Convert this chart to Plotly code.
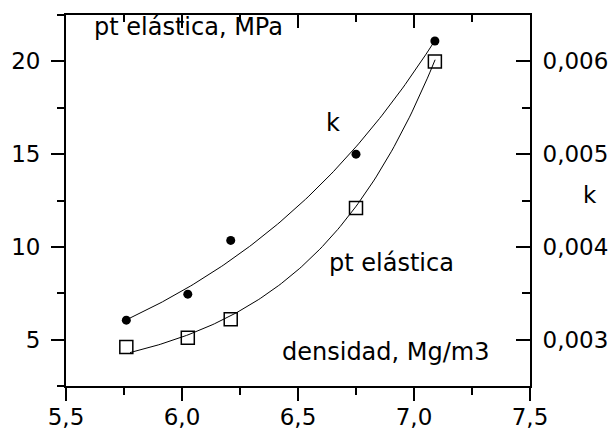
import numpy as np
import plotly.graph_objects as go

# measured data
densidad = [5.76, 6.025, 6.21, 6.75, 7.09]
pt_elastica = [4.6, 5.1, 6.1, 12.1, 20.0]
k_vals = [0.00321, 0.00349, 0.00407, 0.00500, 0.00622]

# points
k_fit_x = [5.773, 6.034, 6.207, 6.422, 6.753, 6.846, 6.947, 7.083]
k_fit_y = [0.00323, 0.003578, 0.003824, 0.004308, 0.005052, 0.005386, 0.005692, 0.006202]
pt_fit_x = [5.776, 6.02, 6.207, 6.444, 6.753, 6.897, 6.983, 7.04, 7.091]
pt_fit_y = [4.53, 5.16, 6.10, 8.05, 11.99, 15.76, 16.93, 18.46, 19.98]

x_ticks = [5.5, 6.0, 6.5, 7.0, 7.5]
y_ticks = [5, 10, 15, 20]
k_ticks = [0.003, 0.004, 0.005, 0.006]


def exp_growth_fit(xs, ys):
    """Least-squares fit of y = y0 + A*exp(b*x) (like Origin's ExpGrow)."""
    xs = np.asarray(xs, float)
    ys = np.asarray(ys, float)
    best = None
    for b in np.linspace(0.2, 8.0, 1561):
        M = np.column_stack([np.ones_like(xs), np.exp(b * (xs - xs[0]))])
        coef, *_ = np.linalg.lstsq(M, ys, rcond=None)
        err = np.sum((M @ coef - ys) ** 2)
        if best is None or err < best[0]:
            best = (err, b, coef)
    _, b, coef = best
    xx = np.linspace(xs[0], xs[-1], 120)
    return xx, coef[0] + coef[1] * np.exp(b * (xx - xs[0]))


kx, ky = exp_growth_fit(k_fit_x, k_fit_y)
px, py = exp_growth_fit(pt_fit_x, pt_fit_y)

FONT = "DejaVu Sans"
fig = go.Figure()

fig.add_trace(go.Scatter(x=kx, y=ky, mode="lines", yaxis="y2",
                         line=dict(color="black", width=1),
                         hoverinfo="skip", showlegend=False))
fig.add_trace(go.Scatter(x=px, y=py, mode="lines",
                         line=dict(color="black", width=1),
                         hoverinfo="skip", showlegend=False))
fig.add_trace(go.Scatter(x=densidad, y=k_vals, mode="markers", yaxis="y2",
                         marker=dict(symbol="circle", size=9, color="black"),
                         showlegend=False))
fig.add_trace(go.Scatter(x=densidad, y=pt_elastica, mode="markers",
                         marker=dict(symbol="square-open", size=13, color="black",
                                     line=dict(width=1.5, color="black")),
                         showlegend=False))
# invisible trace to anchor the top axis
fig.add_trace(go.Scatter(x=[densidad[0]], y=[pt_elastica[0]], xaxis="x2", mode="markers",
                         marker=dict(opacity=0), hoverinfo="skip", showlegend=False))

axis_common = dict(showgrid=False, zeroline=False, showline=True, linecolor="black",
                   linewidth=1.8, tickcolor="black", tickwidth=1.5, automargin=False,
                   tickfont=dict(family=FONT, size=23, color="black"))

fig.update_layout(
    width=616, height=432,
    margin=dict(l=66, r=86, t=15, b=46, autoexpand=False),
    paper_bgcolor="white", plot_bgcolor="white",
    separators=",.",
    showlegend=False,
    xaxis=dict(range=[5.5, 7.5], tickvals=x_ticks, tickformat=".1f", ticks="outside",
               ticklen=13, ticklabelstandoff=-4,
               minor=dict(ticks="outside", ticklen=7, dtick=0.25, tick0=5.5,
                          tickcolor="black", tickwidth=1.5, showgrid=False),
               **axis_common),
    xaxis2=dict(range=[5.5, 7.5], overlaying="x", side="top", tickvals=x_ticks,
                showticklabels=False, ticks="inside", ticklen=13,
                minor=dict(ticks="inside", ticklen=7, dtick=0.25, tick0=5.5,
                           tickcolor="black", tickwidth=1.5, showgrid=False),
                **axis_common),
    yaxis=dict(range=[2.5, 22.5], tickvals=y_ticks, ticks="outside", ticklen=13,
               ticklabelstandoff=6,
               minor=dict(ticks="outside", ticklen=7, dtick=2.5, tick0=0,
                          tickcolor="black", tickwidth=1.5, showgrid=False),
               **axis_common),
    yaxis2=dict(range=[0.0025, 0.0065], overlaying="y", side="right", tickvals=k_ticks,
                tickformat=".3f", ticks="inside", ticklen=14, ticklabelstandoff=6,
                minor=dict(ticks="inside", ticklen=8, dtick=0.0005, tick0=0,
                           tickcolor="black", tickwidth=1.5, showgrid=False),
                **axis_common),
)

ann_font = dict(family=FONT, size=24, color="black")
fig.add_annotation(text="pt elástica, MPa", xref="paper", yref="paper", x=0.0554, y=0.9685,
                   xanchor="left", yanchor="middle", showarrow=False, font=ann_font)
fig.add_annotation(text="k", xref="paper", yref="paper", x=0.5754, y=0.7078,
                   xanchor="center", yanchor="middle", showarrow=False, font=ann_font)
fig.add_annotation(text="pt elástica", xref="paper", yref="paper", x=0.5625, y=0.3305,
                   xanchor="left", yanchor="middle", showarrow=False, font=ann_font)
fig.add_annotation(text="densidad, Mg/m3", xref="paper", yref="paper", x=0.4612, y=0.0925,
                   xanchor="left", yanchor="middle", showarrow=False, font=ann_font)
fig.add_annotation(text="k", xref="paper", yref="paper", x=1.129, y=0.5156,
                   xanchor="center", yanchor="middle", showarrow=False,
                   font=dict(family=FONT, size=23, color="black"))

fig.write_html("out.html")
